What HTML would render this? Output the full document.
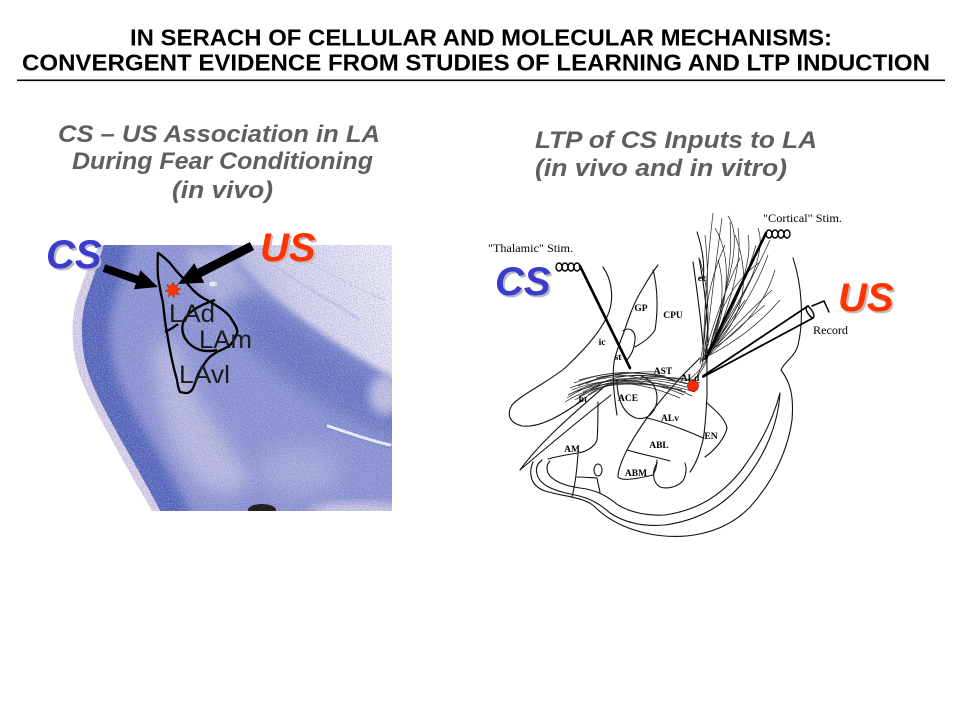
<!DOCTYPE html>
<html><head><meta charset="utf-8"><style>
html,body{margin:0;padding:0;background:#fff;}
svg{display:block;}
</style></head><body>
<svg width="960" height="720" viewBox="0 0 960 720" xmlns="http://www.w3.org/2000/svg">
<defs>
  <clipPath id="tis"><path d="M100,245 L392,245 L392,511 L152,511 C140,490 125,465 113,442 C97,413 82,388 76,362 C70,335 72,310 80,290 C86,272 92,258 100,245 Z"/></clipPath>
  <filter id="b5" x="-20%" y="-20%" width="140%" height="140%"><feGaussianBlur stdDeviation="5"/></filter>
  <filter id="b3" x="-20%" y="-20%" width="140%" height="140%"><feGaussianBlur stdDeviation="3"/></filter>
  <filter id="b9" x="-30%" y="-30%" width="160%" height="160%"><feGaussianBlur stdDeviation="9"/></filter>
  <filter id="nw" x="0" y="0" width="100%" height="100%">
    <feTurbulence type="fractalNoise" baseFrequency="0.85" numOctaves="1" seed="4"/>
    <feColorMatrix type="matrix" values="0 0 0 0 1  0 0 0 0 1  0 0 0 0 1  4 0 0 0 -1.9"/>
  </filter>
  <filter id="nb" x="0" y="0" width="100%" height="100%">
    <feTurbulence type="fractalNoise" baseFrequency="0.9" numOctaves="1" seed="11"/>
    <feColorMatrix type="matrix" values="0 0 0 0 0.22  0 0 0 0 0.27  0 0 0 0 0.7  4 0 0 0 -1.9"/>
  </filter>
  <linearGradient id="wm" x1="250" y1="310" x2="380" y2="250" gradientUnits="userSpaceOnUse">
    <stop offset="0" stop-color="#aeb1dc"/>
    <stop offset="0.35" stop-color="#d6d4ea"/>
    <stop offset="1" stop-color="#eeecf4"/>
  </linearGradient>
</defs>

<rect width="960" height="720" fill="#fff"/>

<!-- Title -->
<g font-family="'Liberation Sans', Arial, sans-serif" font-weight="bold" font-size="23.5" fill="#000">
  <text x="481" y="45.5" text-anchor="middle" textLength="702" lengthAdjust="spacingAndGlyphs">IN SERACH OF CELLULAR AND MOLECULAR MECHANISMS:</text>
  <text x="476" y="70.5" text-anchor="middle" textLength="908" lengthAdjust="spacingAndGlyphs">CONVERGENT EVIDENCE FROM STUDIES OF LEARNING AND LTP INDUCTION</text>
</g>
<rect x="17" y="79.5" width="928" height="1.6" fill="#000"/>

<!-- Subtitles -->
<g font-family="'Liberation Sans', Arial, sans-serif" font-weight="bold" font-style="italic" font-size="24" fill="#5f5f5f">
  <text x="219" y="142" text-anchor="middle" textLength="322" lengthAdjust="spacingAndGlyphs">CS – US Association in LA</text>
  <text x="222.5" y="169" text-anchor="middle" textLength="301" lengthAdjust="spacingAndGlyphs">During Fear Conditioning</text>
  <text x="222.5" y="198" text-anchor="middle" textLength="101" lengthAdjust="spacingAndGlyphs">(in vivo)</text>
  <text x="535" y="148" textLength="282" lengthAdjust="spacingAndGlyphs">LTP of CS Inputs to LA</text>
  <text x="535" y="176" textLength="252" lengthAdjust="spacingAndGlyphs">(in vivo and in vitro)</text>
</g>

<!-- ============ LEFT PHOTO ============ -->
<g clip-path="url(#tis)">
  <rect x="60" y="230" width="360" height="300" fill="#ddd3e6"/>
  <path d="M108,230 L420,230 L420,530 L170,530 C150,490 134,463 121,440 C106,412 91,387 85,361 C80,335 81,312 88,293 C94,275 100,259 108,230 Z" fill="#4f60b6"/>
  <path d="M136,220 L430,220 L430,540 L205,540 C180,490 162,460 148,436 C133,410 119,386 113,360 C108,336 110,313 116,295 C122,277 128,260 136,220 Z" fill="#8a90cf" filter="url(#b5)"/>
  <!-- pale patches -->
  <path d="M152,345 L176,340 L196,395 L226,440 L252,478 L232,496 L200,486 L174,450 L158,400 Z" fill="#c2c0e0" filter="url(#b9)" opacity="0.85"/>
  <path d="M185,250 L225,250 L255,295 L222,305 L200,290 Z" fill="#adafda" filter="url(#b5)"/>
  <ellipse cx="300" cy="470" rx="40" ry="25" fill="#a3a7d8" filter="url(#b9)"/>
  <!-- dark diagonal band -->
  <path d="M232,290 L275,305 L330,345 L420,395 L420,450 L345,418 L292,385 L245,345 Z" fill="#6572c0" filter="url(#b9)"/>
  <!-- white matter -->
  <path d="M218,225 L420,225 L420,395 C380,370 345,350 318,330 C293,313 272,296 257,281 C243,267 230,250 218,225 Z" fill="url(#wm)" filter="url(#b3)"/>
  <path d="M275,265 C300,285 330,300 360,320" stroke="#c0c0e0" stroke-width="3" fill="none" opacity="0.7"/>
  <path d="M300,255 C320,270 350,285 385,300" stroke="#cccbe6" stroke-width="2" fill="none" opacity="0.7"/>
  <!-- bottom right lavender -->
  <ellipse cx="385" cy="395" rx="16" ry="20" fill="#c0bde0" filter="url(#b5)"/>
  <ellipse cx="360" cy="512" rx="50" ry="9" fill="#d4cde5" filter="url(#b5)"/>
  <!-- white streak -->
  <path d="M327,426 C345,432 368,440 390,446" stroke="#7d88c8" stroke-width="6" fill="none" stroke-linecap="round"/>
  <path d="M328,426 C346,432 368,440 390,445" stroke="#f2f3fa" stroke-width="3" fill="none" stroke-linecap="round"/>
  <ellipse cx="213" cy="284" rx="4" ry="2.5" fill="#f4f4fa"/>
  <!-- speckle -->
  <rect x="60" y="240" width="340" height="280" filter="url(#nw)" opacity="0.3"/>
  <rect x="60" y="240" width="340" height="280" filter="url(#nb)" opacity="0.55"/>
  <!-- dark marks -->
  <ellipse cx="262" cy="510" rx="14" ry="6" fill="#222"/>
  <path d="M112,455 L120,470 M125,478 L132,488 M136,494 L144,506" stroke="#333" stroke-width="2"/>
</g>

<!-- LA outline -->
<path d="M158,253 C163,256 167,260 170,263 C175,270 179,274 183,278 C187,283 190,287 193,290 C198,295 202,298 207,300 C212,303 216,305 220,308 C226,312 230,316 232,320 C236,326 238,330 237,333 C235,339 233,342 230,345 C225,349 221,350 217,352 C212,355 209,357 207,360 C203,366 199,371 197,377 C195,383 194,387 192,390 C190,392 188,393 187,393 C184,393 182,392.5 180,392 C178,388 177.5,384 177,380 C175,373 173.5,367 172,360 C170,351 168.5,342 167,333 C165,323 164,313 163,303 C161,294 159.5,286 158,277 C157.5,269 157.5,261 158,253 Z" fill="none" stroke="#000" stroke-width="2.3" stroke-linejoin="round"/>
<path d="M165,332 C170,330 174,327 178,324 M215,300 C200,305 186,312 183,323 C180,335 188,346 200,350 C208,352 213,351 217,350" fill="none" stroke="#000" stroke-width="2.3"/>

<!-- LA labels -->
<g font-family="'Liberation Sans', Arial, sans-serif" font-size="25" fill="#1a1a1a">
  <text x="169" y="322" textLength="46" lengthAdjust="spacingAndGlyphs">LAd</text>
  <text x="199" y="348" textLength="53" lengthAdjust="spacingAndGlyphs">LAm</text>
  <text x="179" y="383" textLength="51" lengthAdjust="spacingAndGlyphs">LAvl</text>
</g>

<!-- Arrows -->
<polygon points="105.3,264.2 138.5,275.9 140.5,270.2 158,287 133.9,289.2 135.9,283.5 102.7,271.8" fill="#000"/>
<polygon points="249.9,242 197.2,269 194.3,263.2 178,284 204.3,282.8 201.4,277 254.1,250" fill="#000"/>
<!-- starburst -->
<polygon points="173,282 174.6,286 178,284 176.7,287.8 181,289 177,291 179.5,295 175,293.5 174,298 172,294 168,297 169.5,292.5 165,291 169,288.5 166.5,284.5 171,286" fill="#ff3300" stroke="#b02000" stroke-width="0.5"/>

<!-- CS / US labels -->
<g font-family="'Liberation Sans', Arial, sans-serif" font-weight="bold" font-style="italic" font-size="40">
  <text x="48" y="270" fill="#b8b8c8">CS</text>
  <text x="46" y="268" fill="#3b3bcc">CS</text>
  <text x="262" y="263" fill="#c8b8b8">US</text>
  <text x="260" y="261" fill="#ff3300">US</text>
  <text x="497" y="297" fill="#b8b8c8">CS</text>
  <text x="495" y="295" fill="#3b3bcc">CS</text>
  <text x="840" y="313" fill="#c8b8b8">US</text>
  <text x="838" y="311" fill="#ff3300">US</text>
</g>

<!-- ============ RIGHT DIAGRAM ============ -->
<g fill="none" stroke="#111" stroke-width="1.1" stroke-linejoin="round" stroke-linecap="round">
  <path d="M603,267 C612,280 615,300 607,317 C598,335 582,352 565,368 C545,384 522,394 512,405 C506,415 510,423 522,426 C540,428 560,416 583,400"/>
  <path d="M520,470 C540,442 575,412 605,386"/>
  <path d="M520,470 C547,447 582,418 611,395"/>
  <path d="M533,462 C528,474 531,486 545,491 C565,497 585,497 595,507 C605,517 620,527 645,533 C680,541 722,536 750,507 C770,485 787,455 792,420 C794,395 790,382 781,370 C784,362 795,357 798,345 C804,320 802,285 793,258"/>
  <path d="M780,393 C778,425 765,455 745,480 C725,505 700,520 665,525 C640,527 622,521 610,513 C600,504 590,498 575,495 C555,491 540,486 537,474 C535,467 538,463 542,460"/>
  <path d="M780,393 C772,423 757,450 740,472 C720,496 698,510 665,515 C645,516 630,512 618,505 C607,496 597,490 580,488 C565,486 552,481 548,473 C546,467 547,464 550,461"/>
  <path d="M658,265 C650,275 645,285 640,293 C633,305 628,320 624,332 C620,342 616,352 614,362 C612,378 614,396 617,415"/>
  <path d="M623,331 C629,326 636,331 635,340 C634,350 631,355 627,360"/>
  <path d="M653,270 C658,288 658,312 655,330 C650,338 642,343 635,347"/>
  <path d="M617,380 C617,397 622,413 636,418 C649,421 657,410 657,398 C657,386 650,379 641,376"/>
  <path d="M627,450 C633,438 640,428 647,418 C660,400 670,390 680,378 C688,370 695,363 700,358"/>
  <path d="M707,345 L707,395 C706,415 705,430 703,440 C700,452 697,462 690,472"/>
  <path d="M647,418 C665,422 690,432 703,438"/>
  <path d="M627,450 C645,455 660,458 670,461"/>
  <path d="M627,450 C622,460 618,470 618,477 C622,482 640,478 653,475 C656,470 657,465 657,460"/>
  <path d="M657,463 C652,471 652,482 660,487 C670,490 683,485 685,476 C687,470 686,466 685,463"/>
  <path d="M707,403 C715,410 725,418 727,428 C725,438 715,450 705,457"/>
  <path d="M598,402 C598,418 598,430 597,440 C594,448 585,452 578,453 C565,455 555,457 548,459"/>
  <path d="M578,453 C577,470 575,485 572,497"/>
  <path d="M577,477 C585,477 592,478 597,478 C598,485 600,490 600,493"/>
  <ellipse cx="598" cy="470" rx="4" ry="6"/>
  <path d="M693,262 C697,290 701,320 703,345"/>
  <path d="M699,258 C705,290 708,320 708,345"/>
  <path d="M697,232 C703,250 705,265 703,280"/>
</g>

<!-- cortical fibers -->
<g fill="none" stroke="#222" stroke-width="0.7">
  <path d="M713,213 Q705,280 703,362"/>
  <path d="M722,218 Q712,290 705,360"/>
  <path d="M730,222 Q735,280 706,358"/>
  <path d="M738,228 Q745,275 708,355"/>
  <path d="M748,235 Q755,270 712,348"/>
  <path d="M756,245 Q740,300 707,356"/>
  <path d="M768,255 Q750,305 709,352"/>
  <path d="M775,270 Q760,320 711,350"/>
  <path d="M772,290 Q740,320 705,358"/>
  <path d="M765,305 Q735,330 704,360"/>
  <path d="M745,300 Q725,330 702,362"/>
  <path d="M705,235 Q712,300 700,364"/>
  <path d="M700,260 Q715,310 702,362"/>
  <path d="M725,245 Q700,300 706,360"/>
  <path d="M740,258 Q720,300 703,361"/>
  <path d="M715,228 Q740,270 710,352"/>
  <path d="M760,262 Q720,290 708,357"/>
  <path d="M770,240 Q745,295 710,354"/>
  <path d="M735,235 Q760,300 712,350"/>
  <path d="M780,300 Q750,335 706,357"/>
  <path d="M728,216 C745,240 725,290 706,362"/>
  <path d="M758,228 C770,260 730,320 704,360"/>
  <path d="M750,280 Q735,310 700,362"/>
  <path d="M718,260 Q730,300 707,359"/>
  <path d="M703,362 Q699,375 692,384"/>
  <path d="M706,360 Q700,372 688,380"/>
  <path d="M708,358 Q703,370 696,378"/>
</g>

<!-- thalamic fibers -->
<g fill="none" stroke="#222" stroke-width="0.7">
  <path d="M567,398 Q615,366 690,388"/>
  <path d="M570,394 Q618,368 688,384"/>
  <path d="M572,390 Q620,370 695,392"/>
  <path d="M575,400 Q622,368 684,395"/>
  <path d="M578,386 Q621,367 700,383"/>
  <path d="M580,396 Q625,365 692,396"/>
  <path d="M583,392 Q618,372 680,398"/>
  <path d="M586,384 Q620,366 670,378"/>
  <path d="M570,388 Q615,370 660,372"/>
  <path d="M574,383 Q625,363 675,381"/>
  <path d="M590,390 Q628,362 698,387"/>
  <path d="M565,402 Q612,372 686,392"/>
  <path d="M579,380 Q620,368 665,376"/>
  <path d="M588,395 Q622,370 694,380"/>
  <path d="M576,404 Q618,372 650,385"/>
  <path d="M596,378 Q625,370 655,384"/>
  <path d="M568,395 Q610,374 682,390"/>
</g>

<!-- electrodes -->
<g fill="none" stroke="#000" stroke-linecap="round">
  <path d="M580,266 L630,368" stroke-width="2.6"/>
  <path d="M766,233 L706,358" stroke-width="2.6"/>
  <path d="M808,306 L703,376 M813,318 L703,377" stroke-width="1.8"/>
  <ellipse cx="810" cy="312" rx="2.5" ry="6.5" transform="rotate(-31 810 312)" stroke-width="1.4"/>
  <path d="M812,306 L824,301 L829,312" stroke-width="1.5"/>
  <g stroke-width="1.4">
    <ellipse cx="559" cy="267" rx="3" ry="4"/>
    <ellipse cx="565" cy="267" rx="3" ry="4"/>
    <ellipse cx="571" cy="267" rx="3" ry="4"/>
    <ellipse cx="577" cy="267" rx="3" ry="4"/>
    <ellipse cx="769" cy="234" rx="3" ry="4"/>
    <ellipse cx="775" cy="234" rx="3" ry="4"/>
    <ellipse cx="781" cy="234" rx="3" ry="4"/>
    <ellipse cx="787" cy="234" rx="3" ry="4"/>
  </g>
</g>

<circle cx="693" cy="386" r="5.5" fill="#ff2a00" stroke="#a01000" stroke-width="0.6"/>

<!-- diagram labels -->
<g font-family="'Liberation Serif', 'Times New Roman', serif" fill="#000">
  <text x="488" y="252" font-size="12" textLength="85" lengthAdjust="spacingAndGlyphs">"Thalamic" Stim.</text>
  <text x="763" y="222" font-size="12" textLength="79" lengthAdjust="spacingAndGlyphs">"Cortical" Stim.</text>
  <text x="813" y="334" font-size="12" textLength="35" lengthAdjust="spacingAndGlyphs">Record</text>
  <g font-size="9.5" font-weight="bold" text-anchor="middle">
    <text x="641" y="311">GP</text>
    <text x="673" y="318">CPU</text>
    <text x="602" y="345">ic</text>
    <text x="618" y="360">st</text>
    <text x="663" y="374">AST</text>
    <text x="690" y="381">ALd</text>
    <text x="583" y="402">bt</text>
    <text x="628" y="401">ACE</text>
    <text x="670" y="421">ALv</text>
    <text x="659" y="448">ABL</text>
    <text x="711" y="439">EN</text>
    <text x="572" y="452">AM</text>
    <text x="636" y="476">ABM</text>
    <text x="702" y="281">ec</text>
  </g>
</g>
</svg>
</body></html>
